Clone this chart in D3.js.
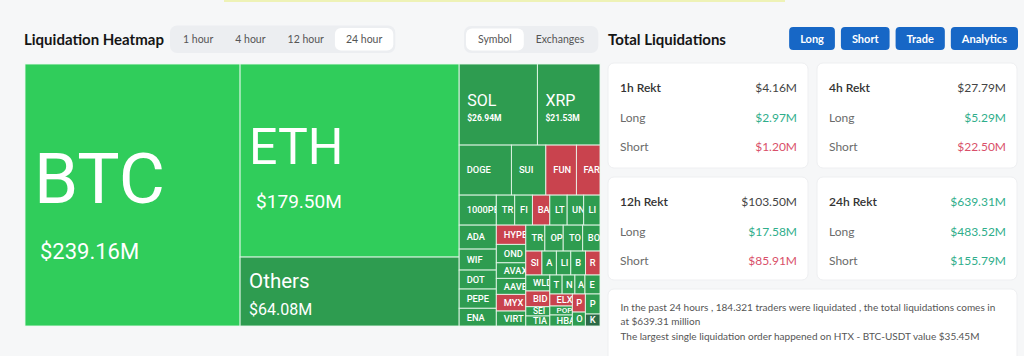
<!DOCTYPE html>
<html><head><meta charset="utf-8">
<script src="https://cdn.jsdelivr.net/npm/d3@7"></script>
<style>html,body{margin:0;padding:0;background:#f6f7f8;} svg{display:block;}</style>
</head><body><svg id="c" width="1024" height="356"></svg>
<script>
// ---------------- data ----------------
const timeTabs = ["1 hour", "4 hour", "12 hour", "24 hour"];
const viewTabs = ["Symbol", "Exchanges"];
const actionButtons = ["Long", "Short", "Trade", "Analytics"];

const majorNames = ["BTC", "ETH", "Others"];
const majorValues = [239.16, 179.50, 64.08];
const row1Names = ["SOL", "XRP"];
const row1Values = [26.94, 21.53];
const row2Names = ["DOGE", "SUI", "FUN", "FARTCOIN"];
const row2Values = [11.1, 7.3, 6.5, 5.0];
const row3Names = ["1000PEPE", "TR", "FI", "BA", "LT", "UNI", "LI"];
const row3Values = [4.73, 2.34, 2.26, 2.21, 2.21, 2.10, 2.08];
const colANames = ["ADA", "WIF", "DOT", "PEPE", "ENA"];
const colAValues = [3.78, 3.31, 2.99, 3.04, 2.79];
const colBNames = ["HYPE", "ONDO", "AVAX", "AAVE", "MYX", "VIRTUAL"];
const colBValues = [2.41, 2.30, 1.95, 2.00, 2.08, 1.87];
const row4Names = ["TR", "OP", "TO", "BO"];
const row4Values = [2.10, 2.02, 2.14, 1.91];
const row5Names = ["SI", "A", "LI", "B", "R"];
const row5Values = [1.64, 1.47, 1.46, 1.50, 1.47];
const colCNames = ["WLD", "BID", "SEI", "TIA"];
const colCValues = [1.63, 1.60, 0.95, 1.02];
const row6Names = ["T", "N", "A", "E"];
const row6Values = [0.99, 1.03, 0.81, 1.21];
const colDNames = ["ELX", "POPCAT", "HBAR"];
const colDValues = [1.15, 0.86, 1.05];
const colENames = ["P", "O"];
const colEValues = [1.00, 0.77];
const colFNames = ["P", "K"];
const colFValues = [1.24, 0.74];
// dominant side of each coin's liquidations (red = shorts dominate)
const shortHeavy = ["FUN", "FARTCOIN", "BA", "HYPE", "SI", "R", "BID", "MYX", "ELX", "P#0"];
const deepLong = ["K"];
const topCoins = ["BTC", "ETH"];

const rektPeriods = ["1h", "4h", "12h", "24h"];
const rektTotal = [4.16, 27.79, 103.50, 639.31];
const rektLong = [2.97, 5.29, 17.58, 483.52];
const rektShort = [1.20, 22.50, 85.91, 155.79];

const summaryLines = [
  "In the past 24 hours , 184.321 traders were liquidated , the total liquidations comes in",
  "at $639.31 million",
  "The largest single liquidation order happened on HTX - BTC-USDT value $35.45M"
];

// ---------------- styles ----------------
const UI = "Lato, 'Noto Sans', sans-serif";
const TM = "Roboto, 'Noto Sans', sans-serif";
const C = {
  bright: "#30cd5b", medium: "#2e9c50", red: "#c9434e", deep: "#2b6a47",
  teal: "#2fae8b", pink: "#d9506a", text: "#333", grey: "#6b6b6b",
  blue: "#1767c6", tabBg: "#eceef1"
};
const svg = d3.select("#c");
svg.append("rect").attr("width", 1024).attr("height", 356).attr("fill", "#f6f7f8");
svg.append("rect").attr("x", 224).attr("y", 0).attr("width", 561).attr("height", 2).attr("fill", "#eef2b6");

// ---------------- header left ----------------
svg.append("text").attr("x", 24).attr("y", 45).text("Liquidation Heatmap")
  .attr("font-family", UI).attr("font-weight", 700).attr("font-size", 15).attr("fill", "#151515");

function segmented(items, x0, y0, h, activeIdx, pad, fs) {
  const g = svg.append("g");
  const bg = g.append("rect").attr("x", x0).attr("y", y0).attr("height", h).attr("rx", 7).attr("fill", C.tabBg);
  const pill = g.append("rect").attr("y", y0 + 2.5).attr("height", h - 5).attr("rx", 6).attr("fill", "#fff");
  let x = x0 + 2;
  items.forEach((t, i) => {
    const tx = g.append("text").text(t).attr("font-family", UI).attr("font-size", fs)
      .attr("fill", "#555").attr("text-anchor", "middle").attr("y", y0 + h / 2 + 3.8);
    const w = tx.node().getComputedTextLength();
    const slot = w + pad * 2;
    tx.attr("x", x + slot / 2);
    if (i === activeIdx) pill.attr("x", x).attr("width", slot);
    x += slot;
  });
  bg.attr("width", x - x0 + 2);
}
segmented(timeTabs, 170, 25.5, 27.5, 3, 11, 10.5);
segmented(viewTabs, 464, 26, 27, 0, 12, 10.5);

// ---------------- treemap ----------------
function leaves(names, values) {
  return names.map((n, i) => ({ name: n, value: values[i], key: n }));
}
function grp(dir, children) { return { dir, children }; }
const tree = grp("h", [
  leaves(majorNames.slice(0, 1), majorValues.slice(0, 1))[0],
  grp("v", leaves(majorNames.slice(1), majorValues.slice(1))),
  grp("v", [
    grp("h", leaves(row1Names, row1Values)),
    grp("h", leaves(row2Names, row2Values)),
    grp("h", leaves(row3Names, row3Values)),
    grp("h", [
      grp("v", leaves(colANames, colAValues)),
      grp("v", leaves(colBNames, colBValues)),
      grp("v", [
        grp("h", leaves(row4Names, row4Values)),
        grp("h", leaves(row5Names, row5Values)),
        grp("h", [
          grp("v", leaves(colCNames, colCValues)),
          grp("v", [
            grp("h", leaves(row6Names, row6Values)),
            grp("h", [
              grp("v", leaves(colDNames, colDValues)),
              grp("v", leaves(colENames, colEValues).map((d, i) => ({ ...d, key: d.name + "#" + i }))),
              grp("v", leaves(colFNames, colFValues))
            ])
          ])
        ])
      ])
    ])
  ])
]);
const TX = 25, TY = 64, TW = 575, TH = 262;
const root = d3.hierarchy(tree).sum(d => d.value || 0);
d3.treemap().size([TW, TH]).round(false)
  .tile((node, x0, y0, x1, y1) => (node.data.dir === "h" ? d3.treemapDice : d3.treemapSlice)(node, x0, y0, x1, y1))(root);

const big = {
  BTC:    { fs: 71, vfs: 22, pad: 9, vpad: 15, gap: 40, vw: 400 },
  ETH:    { fs: 50, vfs: 19, pad: 9, vpad: 16, gap: 30, vw: 400 },
  Others: { fs: 20.5, vfs: 16, pad: 9, vpad: 9, gap: 15, vw: 400 },
  SOL:    { fs: 16, vfs: 8.5, pad: 8, vpad: 8, gap: 9, vw: 700 },
  XRP:    { fs: 16, vfs: 8.5, pad: 8, vpad: 8, gap: 9, vw: 700 }
};
function fillOf(d) {
  const k = d.data.key;
  if (topCoins.includes(k)) return C.bright;
  if (shortHeavy.includes(k)) return C.red;
  if (deepLong.includes(k)) return C.deep;
  return C.medium;
}
const tg = svg.append("g").attr("transform", `translate(${TX},${TY})`);
const leafs = root.leaves();
const cell = tg.selectAll("g.cell").data(leafs).join("g").attr("class", "cell");
cell.append("clipPath").attr("id", (d, i) => "cp" + i)
  .append("rect").attr("x", d => d.x0).attr("y", d => d.y0)
  .attr("width", d => d.x1 - d.x0).attr("height", d => d.y1 - d.y0);
cell.append("rect").attr("x", d => d.x0).attr("y", d => d.y0)
  .attr("width", d => d.x1 - d.x0).attr("height", d => d.y1 - d.y0)
  .attr("fill", fillOf).attr("stroke", "rgba(235,250,238,0.85)").attr("stroke-width", 1);
cell.each(function (d, i) {
  const g = d3.select(this).append("g").attr("clip-path", `url(#cp${i})`);
  const w = d.x1 - d.x0, h = d.y1 - d.y0, cy = (d.y0 + d.y1) / 2;
  const s = big[d.data.name];
  if (s) {
    const capN = s.fs * 0.711, capV = s.vfs * 0.711;
    const block = capN + s.gap + capV;
    const bc = cy + 0.04 * h;
    const nb = bc - block / 2 + capN;
    g.append("text").attr("x", d.x0 + s.pad).attr("y", nb).text(d.data.name)
      .attr("font-family", TM).attr("font-size", s.fs).attr("fill", "#fff");
    g.append("text").attr("x", d.x0 + s.vpad).attr("y", nb + s.gap + capV)
      .text("$" + d3.format(".2f")(d.value) + "M")
      .attr("font-family", TM).attr("font-size", s.vfs).attr("font-weight", s.vw).attr("fill", "#fff");
  } else {
    const pad = Math.min(7.5, w * 0.3);
    const fs = Math.min(9.3, h * 0.9);
    const t = g.append("text").attr("x", d.x0 + pad).attr("y", cy + fs * 0.36).text(d.data.name)
      .attr("font-family", TM).attr("font-size", fs).attr("font-weight", 500).attr("fill", "#fff");
    // the cell shows only as much of the name as fits (last glyph may be cut by the cell edge)
    let s2 = d.data.name;
    while (s2.length > 1 && t.node().getComputedTextLength() > w - pad + 3.5) {
      s2 = s2.slice(0, -1); t.text(s2);
    }
  }
});

// ---------------- right panel ----------------
svg.append("text").attr("x", 608).attr("y", 44.5).text("Total Liquidations")
  .attr("font-family", UI).attr("font-weight", 700).attr("font-size", 15).attr("fill", "#151515");

(function buttons() {
  let xr = 1018;
  const g = svg.append("g");
  actionButtons.slice().reverse().forEach(t => {
    const tx = g.append("text").text(t).attr("font-family", UI).attr("font-weight", 700)
      .attr("font-size", 11).attr("fill", "#fff").attr("text-anchor", "middle").attr("y", 42.8);
    const w = tx.node().getComputedTextLength() + 22;
    g.insert("rect", "text").attr("x", xr - w).attr("y", 27).attr("width", w).attr("height", 23)
      .attr("rx", 4).attr("fill", C.blue);
    tx.attr("x", xr - w / 2);
    xr -= w + 6;
  });
})();

const cardX = [608, 817], cardY = [63, 177], cardW = 200, cardH = [105, 103];
const fmt = v => "$" + d3.format(".2f")(v) + "M";
rektPeriods.forEach((p, i) => {
  const x = cardX[i % 2], y = cardY[Math.floor(i / 2)], h = cardH[Math.floor(i / 2)];
  const g = svg.append("g");
  g.append("rect").attr("x", x).attr("y", y).attr("width", cardW).attr("height", h).attr("rx", 6)
    .attr("fill", "#fff").attr("stroke", "#eeeff1");
  const all24 = i === 3;
  const rows = [
    [p + " Rekt", rektTotal[i], all24 ? C.teal : "#444", "#333", 600],
    ["Long", rektLong[i], C.teal, C.grey, 400],
    ["Short", rektShort[i], all24 ? C.teal : C.pink, C.grey, 400]
  ];
  rows.forEach((r, j) => {
    const yy = y + 29 + j * 29.7;
    g.append("text").attr("x", x + 12).attr("y", yy).text(r[0]).attr("font-family", UI)
      .attr("font-size", 12).attr("font-weight", r[4]).attr("fill", r[3]);
    g.append("text").attr("x", x + 189).attr("y", yy).attr("text-anchor", "end").text(fmt(r[1]))
      .attr("font-family", UI).attr("font-size", 12).attr("fill", r[2]);
  });
});
svg.append("rect").attr("x", 608).attr("y", 289).attr("width", 409).attr("height", 90).attr("rx", 6)
  .attr("fill", "#fff").attr("stroke", "#eeeff1");
summaryLines.forEach((t, i) => {
  svg.append("text").attr("x", 620.5).attr("y", 310.5 + i * 14.8).text(t)
    .attr("font-family", UI).attr("font-size", 10).attr("fill", "#555");
});
</script></body></html>
